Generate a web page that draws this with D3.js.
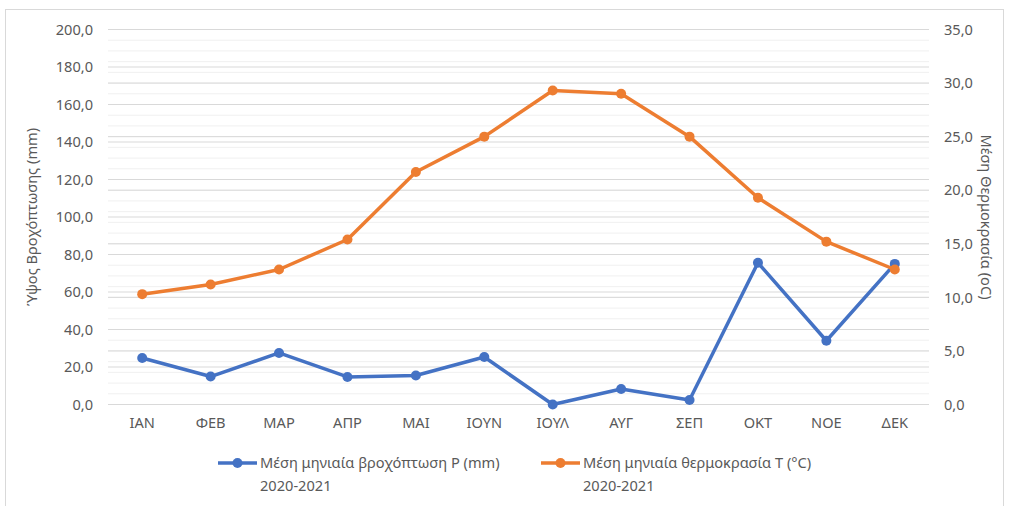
<!DOCTYPE html>
<html><head><meta charset="utf-8">
<script src="https://cdn.jsdelivr.net/npm/d3@7"></script>
<style>body{margin:0;background:#fff}svg{display:block}text{font-family:"Noto Sans",sans-serif;fill:#595959}</style>
</head><body><svg id="c" width="1009" height="506"></svg>
<script>
const months = ["ΙΑΝ","ΦΕΒ","ΜΑΡ","ΑΠΡ","ΜΑΙ","ΙΟΥΝ","ΙΟΥΛ","ΑΥΓ","ΣΕΠ","ΟΚΤ","ΝΟΕ","ΔΕΚ"];
const rain = [24.8,14.9,27.5,14.7,15.5,25.3,0.0,8.3,2.4,75.6,34.0,75.0];
const temp = [10.3,11.2,12.6,15.4,21.7,25.0,29.3,29.0,25.0,19.3,15.2,12.6];
const rainTicks = [0,20,40,60,80,100,120,140,160,180,200];
const tempTicks = [0,5,10,15,20,25,30,35];
const tempMinor = d3.range(0,36,1);
const rainLabel = "Ύψος Βροχόπτωσης (mm)";
const tempLabel = "Μέση Θερμοκρασία (oC)";
const legendRain = ["Μέση μηνιαία βροχόπτωση P (mm)","2020-2021"];
const legendTemp = ["Μέση μηνιαία θερμοκρασία T (°C)","2020-2021"];

const FS = 14.6;
const svg = d3.select("#c");
svg.append("rect").attr("x",5.5).attr("y",9.5).attr("width",998).attr("height",510)
  .attr("fill","#fff").attr("stroke","#d9d9d9");

const L=108, R=929, T=29.5, B=404.5;
const x = d3.scaleBand().domain(months).range([L,R]);
const yL = d3.scaleLinear().domain([0,200]).range([B,T]);
const yR = d3.scaleLinear().domain([0,35]).range([B,T]);
const fmt = d => d.toFixed(1).replace(".",",");

const g = svg.append("g");
g.selectAll(".mn").data(tempMinor).join("line")
  .attr("x1",L).attr("x2",R).attr("y1",d=>yR(d)).attr("y2",d=>yR(d))
  .attr("stroke","#f0f0f0").attr("stroke-width",1);
g.selectAll(".mr").data(tempTicks).join("line")
  .attr("x1",L).attr("x2",R).attr("y1",d=>yR(d)).attr("y2",d=>yR(d))
  .attr("stroke","#d9d9d9").attr("stroke-width",1);
g.selectAll(".ml").data(rainTicks).join("line")
  .attr("x1",L).attr("x2",R).attr("y1",d=>yL(d)).attr("y2",d=>yL(d))
  .attr("stroke","#d9d9d9").attr("stroke-width",1);

const axL = d3.axisLeft(yL).tickValues(rainTicks).tickFormat(fmt).tickSize(0).tickPadding(15);
const gL = svg.append("g").attr("transform",`translate(${L},0)`).call(axL);
const axR = d3.axisRight(yR).tickValues(tempTicks).tickFormat(fmt).tickSize(0).tickPadding(15);
const gR = svg.append("g").attr("transform",`translate(${R},0)`).call(axR);
const axB = d3.axisBottom(x).tickSize(0).tickPadding(13);
const gB = svg.append("g").attr("transform",`translate(0,${B})`).call(axB);
[gL,gR,gB].forEach(a=>{a.select(".domain").remove();a.selectAll("text").attr("font-size",FS).attr("font-family","Noto Sans").attr("fill","#595959");});
gB.append("line").attr("x1",L).attr("x2",R).attr("y1",0).attr("y2",0).attr("stroke","#d9d9d9");

svg.append("text").attr("transform",`translate(37,217) rotate(-90)`).attr("text-anchor","middle")
  .attr("font-size",FS).text(rainLabel);
svg.append("text").attr("transform",`translate(981,217) rotate(90)`).attr("text-anchor","middle")
  .attr("font-size",FS).text(tempLabel);

const cx = d => x(d)+x.bandwidth()/2;
function series(vals, y, color){
  svg.append("path").datum(vals).attr("fill","none").attr("stroke",color).attr("stroke-width",3.5)
    .attr("stroke-linejoin","round")
    .attr("d", d3.line().x((d,i)=>cx(months[i])).y(d=>y(d)));
  svg.append("g").selectAll("circle").data(vals).join("circle")
    .attr("cx",(d,i)=>cx(months[i])).attr("cy",d=>y(d)).attr("r",5).attr("fill",color);
}
series(rain,yL,"#4472C4");
series(temp,yR,"#ED7D31");

function legend(x0, lines, color){
  const lg = svg.append("g").attr("transform",`translate(${x0},463)`);
  lg.append("line").attr("x1",0).attr("x2",39).attr("stroke",color).attr("stroke-width",3.5);
  lg.append("circle").attr("cx",19.5).attr("r",5).attr("fill",color);
  lg.selectAll("text").data(lines).join("text").attr("x",42).attr("y",(d,i)=>i*23+5)
    .attr("font-size",FS).text(d=>d);
}
legend(218, legendRain, "#4472C4");
legend(541, legendTemp, "#ED7D31");
</script></body></html>
